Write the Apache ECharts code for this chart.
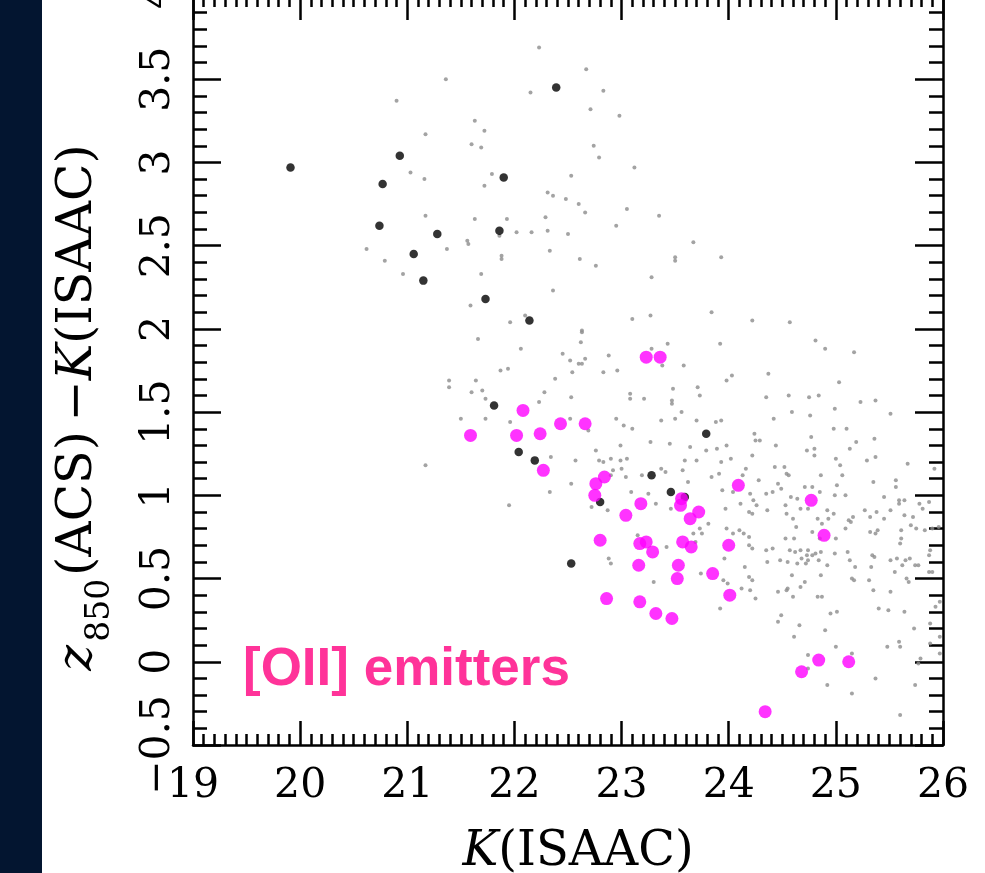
<!DOCTYPE html>
<html>
<head>
<meta charset="utf-8">
<script src="https://cdn.jsdelivr.net/npm/echarts@6/dist/echarts.min.js"></script>
<style>
html,body{margin:0;padding:0;background:#fff;}
#chart{width:985px;height:873px;}
</style>
</head>
<body>
<div id="chart"></div>
<script>
// K(ISAAC) vs z850(ACS)-K(ISAAC)
const xTicks = [19, 20, 21, 22, 23, 24, 25, 26];
const yTicks = [-0.5, 0, 0.5, 1, 1.5, 2, 2.5, 3, 3.5, 4];

// all galaxies (small grey points)
const grayPts = [
[22.23,3.69],[21.36,3.50],[22.15,3.42],[20.90,3.37],[21.63,3.25],[21.72,3.19],[21.17,3.17],[21.60,3.11],[21.69,3.09],[21.03,2.94],[21.16,2.90],[21.79,2.93],[21.72,2.86],[22.31,2.82],[22.36,2.80],[22.48,2.78],[21.17,2.68],[21.63,2.66],[21.93,2.66],[22.29,2.67],[22.02,2.58],[22.16,2.58],[22.31,2.59],[22.50,2.57],[21.86,2.56],[20.62,2.48],[21.37,2.48],[21.56,2.53],[21.57,2.51],[22.33,2.47],[20.79,2.41],[21.88,2.44],[21.88,2.42],[20.96,2.33],[21.69,2.33],[22.36,2.23],[21.59,2.14],[21.96,2.04],[22.10,2.08],
[22.67,3.56],[22.83,3.43],[22.71,3.32],[22.98,3.28],[22.74,3.10],[22.79,3.03],[23.12,2.97],[22.53,2.92],[22.60,2.75],[22.66,2.70],[23.05,2.72],[23.35,2.68],[22.95,2.62],[23.67,2.52],[22.61,2.42],[22.76,2.38],[23.50,2.43],[23.50,2.41],[23.93,2.43],[23.28,2.31],[23.10,2.06],[23.27,2.08],[23.84,2.10],[24.22,2.05],[24.57,2.04],[22.63,1.99],
[21.66,1.94],[22.06,1.88],[22.45,1.85],[21.87,1.75],[21.94,1.76],[21.39,1.69],[21.39,1.65],[21.64,1.69],[22.38,1.70],[21.60,1.62],[21.70,1.63],[22.28,1.62],[21.73,1.58],[22.23,1.56],[21.50,1.46],[21.73,1.46],[21.96,1.44],[21.17,1.18],[22.34,1.23],[22.33,1.02],[21.95,0.94],
[22.63,1.98],[22.62,1.92],[23.43,1.91],[23.92,1.91],[23.28,1.88],[22.52,1.81],[22.60,1.79],[22.63,1.79],[22.66,1.82],[22.88,1.84],[23.38,1.78],[23.58,1.78],[22.54,1.74],[22.83,1.74],[22.96,1.75],[23.98,1.69],[24.03,1.72],[23.48,1.64],[23.71,1.65],[23.73,1.60],[23.08,1.61],[23.08,1.58],[23.21,1.58],[23.47,1.57],[23.47,1.55],[22.53,1.59],[23.56,1.50],[23.50,1.46],[23.37,1.45],[23.70,1.45],[23.88,1.44],[23.93,1.45],[22.95,1.46],[23.02,1.42],[23.10,1.40],[22.69,1.39],[22.52,1.46],[23.27,1.32],[23.45,1.31],[22.99,1.30],[24.24,1.37],[24.25,1.33],[23.64,1.29],[23.79,1.27],[23.89,1.28],[23.98,1.30],[22.76,1.27],[22.57,1.21],[22.79,1.21],[22.83,1.20],[22.90,1.22],[22.99,1.21],[23.05,1.22],[23.59,1.21],[23.70,1.21],[23.93,1.20],[24.02,1.22],[24.22,1.24],[23.00,1.16],[22.92,1.15],[22.90,1.12],[23.04,1.11],[23.19,1.12],[23.37,1.16],[23.41,1.14],[23.57,1.15],[23.62,1.08],[23.84,1.11],[23.91,1.13],[24.16,1.16],[24.13,1.12],[22.53,1.07],[23.09,1.02],[23.25,1.01],[23.94,1.03],[24.04,1.02],[24.20,1.01],[24.23,0.97],[24.26,0.94],[22.72,0.93],[22.87,0.91],[23.32,0.95],[23.46,0.92],[23.97,0.92],[24.11,0.95],[24.19,0.90],[24.22,0.89],[23.81,0.83],[23.73,0.80],[23.75,0.77],[23.67,0.77],[23.15,0.76],[23.98,0.80],[24.04,0.77],[24.10,0.79],[24.14,0.77],[24.19,0.75],
[24.81,1.93],[24.90,1.88],[25.17,1.86],[24.37,1.73],[25.03,1.68],[24.35,1.59],[24.56,1.60],[24.75,1.59],[24.84,1.60],[25.23,1.56],[25.37,1.57],[24.99,1.52],[24.59,1.50],[24.42,1.46],[24.76,1.48],[25.51,1.49],[24.98,1.40],[25.10,1.40],[24.29,1.33],[24.77,1.35],[25.19,1.32],[25.36,1.34],[24.44,1.30],[24.80,1.28],[24.73,1.27],[24.80,1.24],[25.13,1.28],[25.00,1.22],[25.04,1.18],[25.29,1.21],[25.37,1.23],[25.67,1.19],[25.92,1.16],[24.43,1.17],[24.52,1.17],[24.54,1.13],[24.56,1.12],[24.86,1.12],[25.06,1.12],[24.28,1.09],[25.35,1.08],[25.56,1.09],[25.56,1.05],[24.46,1.07],[24.49,1.04],[24.71,1.05],[24.78,1.05],[25.01,1.06],[24.85,1.02],[24.35,1.01],[24.41,1.02],[24.58,0.99],[24.99,1.00],[25.09,1.00],[25.45,0.99],[25.59,0.97],[25.64,0.97],[25.59,0.95],[25.78,0.95],[25.87,0.96],[25.81,0.92],[24.64,0.98],[24.67,0.92],[24.53,0.94],[24.54,0.89],[24.74,0.92],[24.92,0.91],[24.98,0.89],[24.93,0.86],[24.36,0.91],[25.27,0.91],[25.38,0.90],[25.51,0.91],[24.60,0.86],[24.83,0.86],[24.87,0.83],[25.12,0.85],[25.14,0.84],[25.16,0.87],[25.32,0.87],[25.45,0.86],[25.64,0.88],[25.72,0.87],[24.63,0.81],[25.70,0.82],[25.75,0.80],[25.83,0.79],[25.61,0.79],[24.78,0.78],[25.09,0.80],[25.32,0.78],[25.37,0.77],[25.39,0.79],[25.90,0.80],[25.96,0.81],[24.53,0.74],[24.61,0.74],[24.85,0.74],[25.00,0.74],[25.61,0.74],
[22.88,0.62],[22.90,0.59],[23.42,0.69],[23.30,0.48],[23.69,0.72],[23.96,0.62],[23.95,0.49],[23.99,0.47],[23.92,0.32],[23.74,0.53],[24.15,0.57],[24.19,0.70],[24.22,0.68],[24.19,0.51],[24.22,0.49],[24.12,0.44],[24.20,0.43],[24.25,0.38],[24.35,0.67],[24.41,0.68],[24.36,0.60],[24.48,0.61],[24.55,0.60],[24.57,0.67],[24.62,0.66],[24.64,0.59],[24.68,0.62],[24.72,0.59],[24.74,0.61],[24.78,0.64],[24.81,0.65],[24.84,0.61],[24.74,0.67],[24.73,0.64],[24.67,0.67],[24.86,0.66],[24.99,0.65],[24.92,0.58],[24.59,0.52],[24.71,0.48],[24.46,0.42],[24.54,0.43],[24.55,0.44],[24.67,0.45],[24.60,0.39],[24.83,0.39],[24.87,0.39],[24.86,0.52],[25.11,0.66],[25.13,0.61],[25.18,0.57],[25.15,0.50],[25.17,0.49],[25.33,0.57],[25.31,0.49],[25.36,0.63],[25.34,0.64],[25.51,0.61],[25.55,0.54],[25.60,0.71],[25.57,0.62],[25.65,0.61],[25.69,0.62],[25.62,0.58],[25.74,0.58],[25.77,0.58],[25.66,0.50],[25.68,0.48],[25.87,0.54],[25.90,0.54],[25.87,0.64],[25.88,0.67],[25.35,0.43],[25.51,0.42],[25.40,0.32],[25.49,0.31],[25.64,0.30],[25.73,0.20],[25.88,0.23],[25.93,0.33],[25.97,0.36],[25.97,0.15],[25.97,0.05],[25.88,0.11],[24.46,0.24],[24.49,0.28],[24.61,0.15],[24.66,0.22],[24.95,0.29],[25.01,0.30],[24.90,0.19],[25.00,0.09],[25.15,0.05],[24.74,0.04],[24.74,-0.04],[24.92,-0.14],[25.15,-0.19],[25.37,-0.10],[25.48,0.09],[25.59,0.12],[25.60,0.09],[25.79,0.02],[25.77,-0.01],[25.74,-0.14],[25.60,-0.32]
];

// black points
const blackPts = [
[19.91,2.97],[20.93,3.04],[20.77,2.87],[20.74,2.62],[21.28,2.57],[21.06,2.45],[21.15,2.29],[21.90,2.91],[21.86,2.59],[21.73,2.18],[22.14,2.05],[22.39,3.45],[21.81,1.54],[22.04,1.26],[22.19,1.21],[22.53,0.59],[22.80,0.96],[23.28,1.12],[23.46,1.02],[23.59,0.99],[23.79,1.37]
];

// [OII] emitters (magenta)
const oiiPts = [
[21.59,1.36],[22.08,1.51],[22.02,1.36],[22.24,1.37],[22.43,1.43],[22.27,1.15],[22.66,1.43],[23.23,1.83],[23.36,1.83],[22.84,1.11],[22.76,1.07],[22.75,1.00],[23.18,0.95],[23.04,0.88],[23.56,0.98],[23.55,0.94],[23.72,0.90],[23.64,0.86],[24.09,1.06],[22.80,0.73],[23.17,0.71],[23.23,0.72],[23.57,0.72],[23.65,0.69],[24.00,0.70],[23.29,0.66],[23.16,0.58],[23.53,0.58],[23.52,0.50],[23.85,0.53],[24.01,0.40],[22.86,0.38],[23.17,0.36],[23.32,0.29],[23.47,0.26],[24.77,0.97],[24.89,0.76],[24.84,0.01],[24.68,-0.06],[25.12,0.00],[24.34,-0.30]
];

const labelText = '[OII] emitters';

const chart = echarts.init(document.getElementById('chart'), null, {renderer: 'canvas'});
const serif = '"DejaVu Serif", "Liberation Serif", serif';
const axisLineStyle = {color: '#000', width: 2.5};
const tickStyle = {color: '#000', width: 2.5};

function baseX(extra) {
  return Object.assign({
    type: 'value', min: xTicks[0], max: xTicks[xTicks.length - 1], interval: 1,
    axisLine: {show: true, onZero: false, lineStyle: axisLineStyle},
    axisTick: {show: true, inside: true, length: 24, lineStyle: tickStyle},
    minorTick: {show: true, splitNumber: 10, length: 11, lineStyle: tickStyle},
    splitLine: {show: false}, minorSplitLine: {show: false}
  }, extra);
}
function baseY(extra) {
  return Object.assign({
    type: 'value', min: yTicks[0], max: yTicks[yTicks.length - 1], interval: 0.5,
    axisLine: {show: true, onZero: false, lineStyle: axisLineStyle},
    axisTick: {show: true, inside: true, length: 28, lineStyle: tickStyle},
    minorTick: {show: true, splitNumber: 5, length: 14, lineStyle: tickStyle},
    splitLine: {show: false}, minorSplitLine: {show: false}
  }, extra);
}

chart.setOption({
  animation: false,
  backgroundColor: '#ffffff',
  grid: {left: 193, right: 42, top: -4, bottom: 128, containLabel: false, outerBoundsMode: 'none'},
  xAxis: [
    baseX({
      position: 'bottom',
      axisLabel: {show: true, margin: 21, color: '#000', fontFamily: serif, fontSize: 41},
      name: '{i|K}(ISAAC)',
      nameLocation: 'middle', nameGap: 84, nameMoveOverlap: false,
      nameTextStyle: {color: '#000', fontFamily: serif, fontSize: 48, padding: [0, 0, 0, 20],
        rich: {i: {fontStyle: 'italic', fontFamily: serif, fontSize: 48, color: '#000'}}}
    }),
    baseX({position: 'top', axisLabel: {show: false}})
  ],
  yAxis: [
    baseY({
      position: 'left',
      axisLabel: {show: true, rotate: 90, margin: 14, color: '#000', fontFamily: serif, fontSize: 41,
        formatter: v => (v < 0 ? '\u2212' + Math.abs(v) : String(v))},
      name: '{i|z}{sub|850}(ACS)\u2009\u2212{i|K}(ISAAC)',
      nameLocation: 'middle', nameRotate: 90, nameGap: 90, nameMoveOverlap: false,
      nameTextStyle: {color: '#000', fontFamily: serif, fontSize: 49, lineHeight: 49, padding: [0, 74, 0, 0],
        rich: {
          i: {fontStyle: 'italic', fontFamily: serif, fontSize: 49, lineHeight: 49, color: '#000'},
          sub: {fontFamily: serif, fontSize: 33, lineHeight: 33, padding: [44, 3, 0, 3], color: '#000'}
        }}
    }),
    baseY({position: 'right', axisLabel: {show: false}})
  ],
  graphic: [
    {type: 'rect', left: 0, top: 0, shape: {width: 42, height: 873}, style: {fill: '#031530'}, z: 100},
    {type: 'text', x: 243, y: 670, z: 100,
     style: {text: labelText, fill: '#ff3399', font: 'bold 53px "Liberation Sans", Arial, sans-serif',
             textAlign: 'left', textVerticalAlign: 'middle', verticalAlign: 'middle'}}
  ],
  series: [
    {type: 'scatter', name: 'all', data: grayPts, xAxisIndex: 0, yAxisIndex: 0,
     symbol: 'circle', symbolSize: 4, itemStyle: {color: '#8c8c8c'}, silent: true, z: 2},
    {type: 'scatter', name: 'black', data: blackPts, xAxisIndex: 0, yAxisIndex: 0,
     symbol: 'circle', symbolSize: 8.5, itemStyle: {color: '#000000'}, silent: true, z: 3},
    {type: 'scatter', name: '[OII]', data: oiiPts, xAxisIndex: 0, yAxisIndex: 0,
     symbol: 'circle', symbolSize: 13, itemStyle: {color: '#ff00ff'}, silent: true, z: 4}
  ]
});
</script>
</body>
</html>
